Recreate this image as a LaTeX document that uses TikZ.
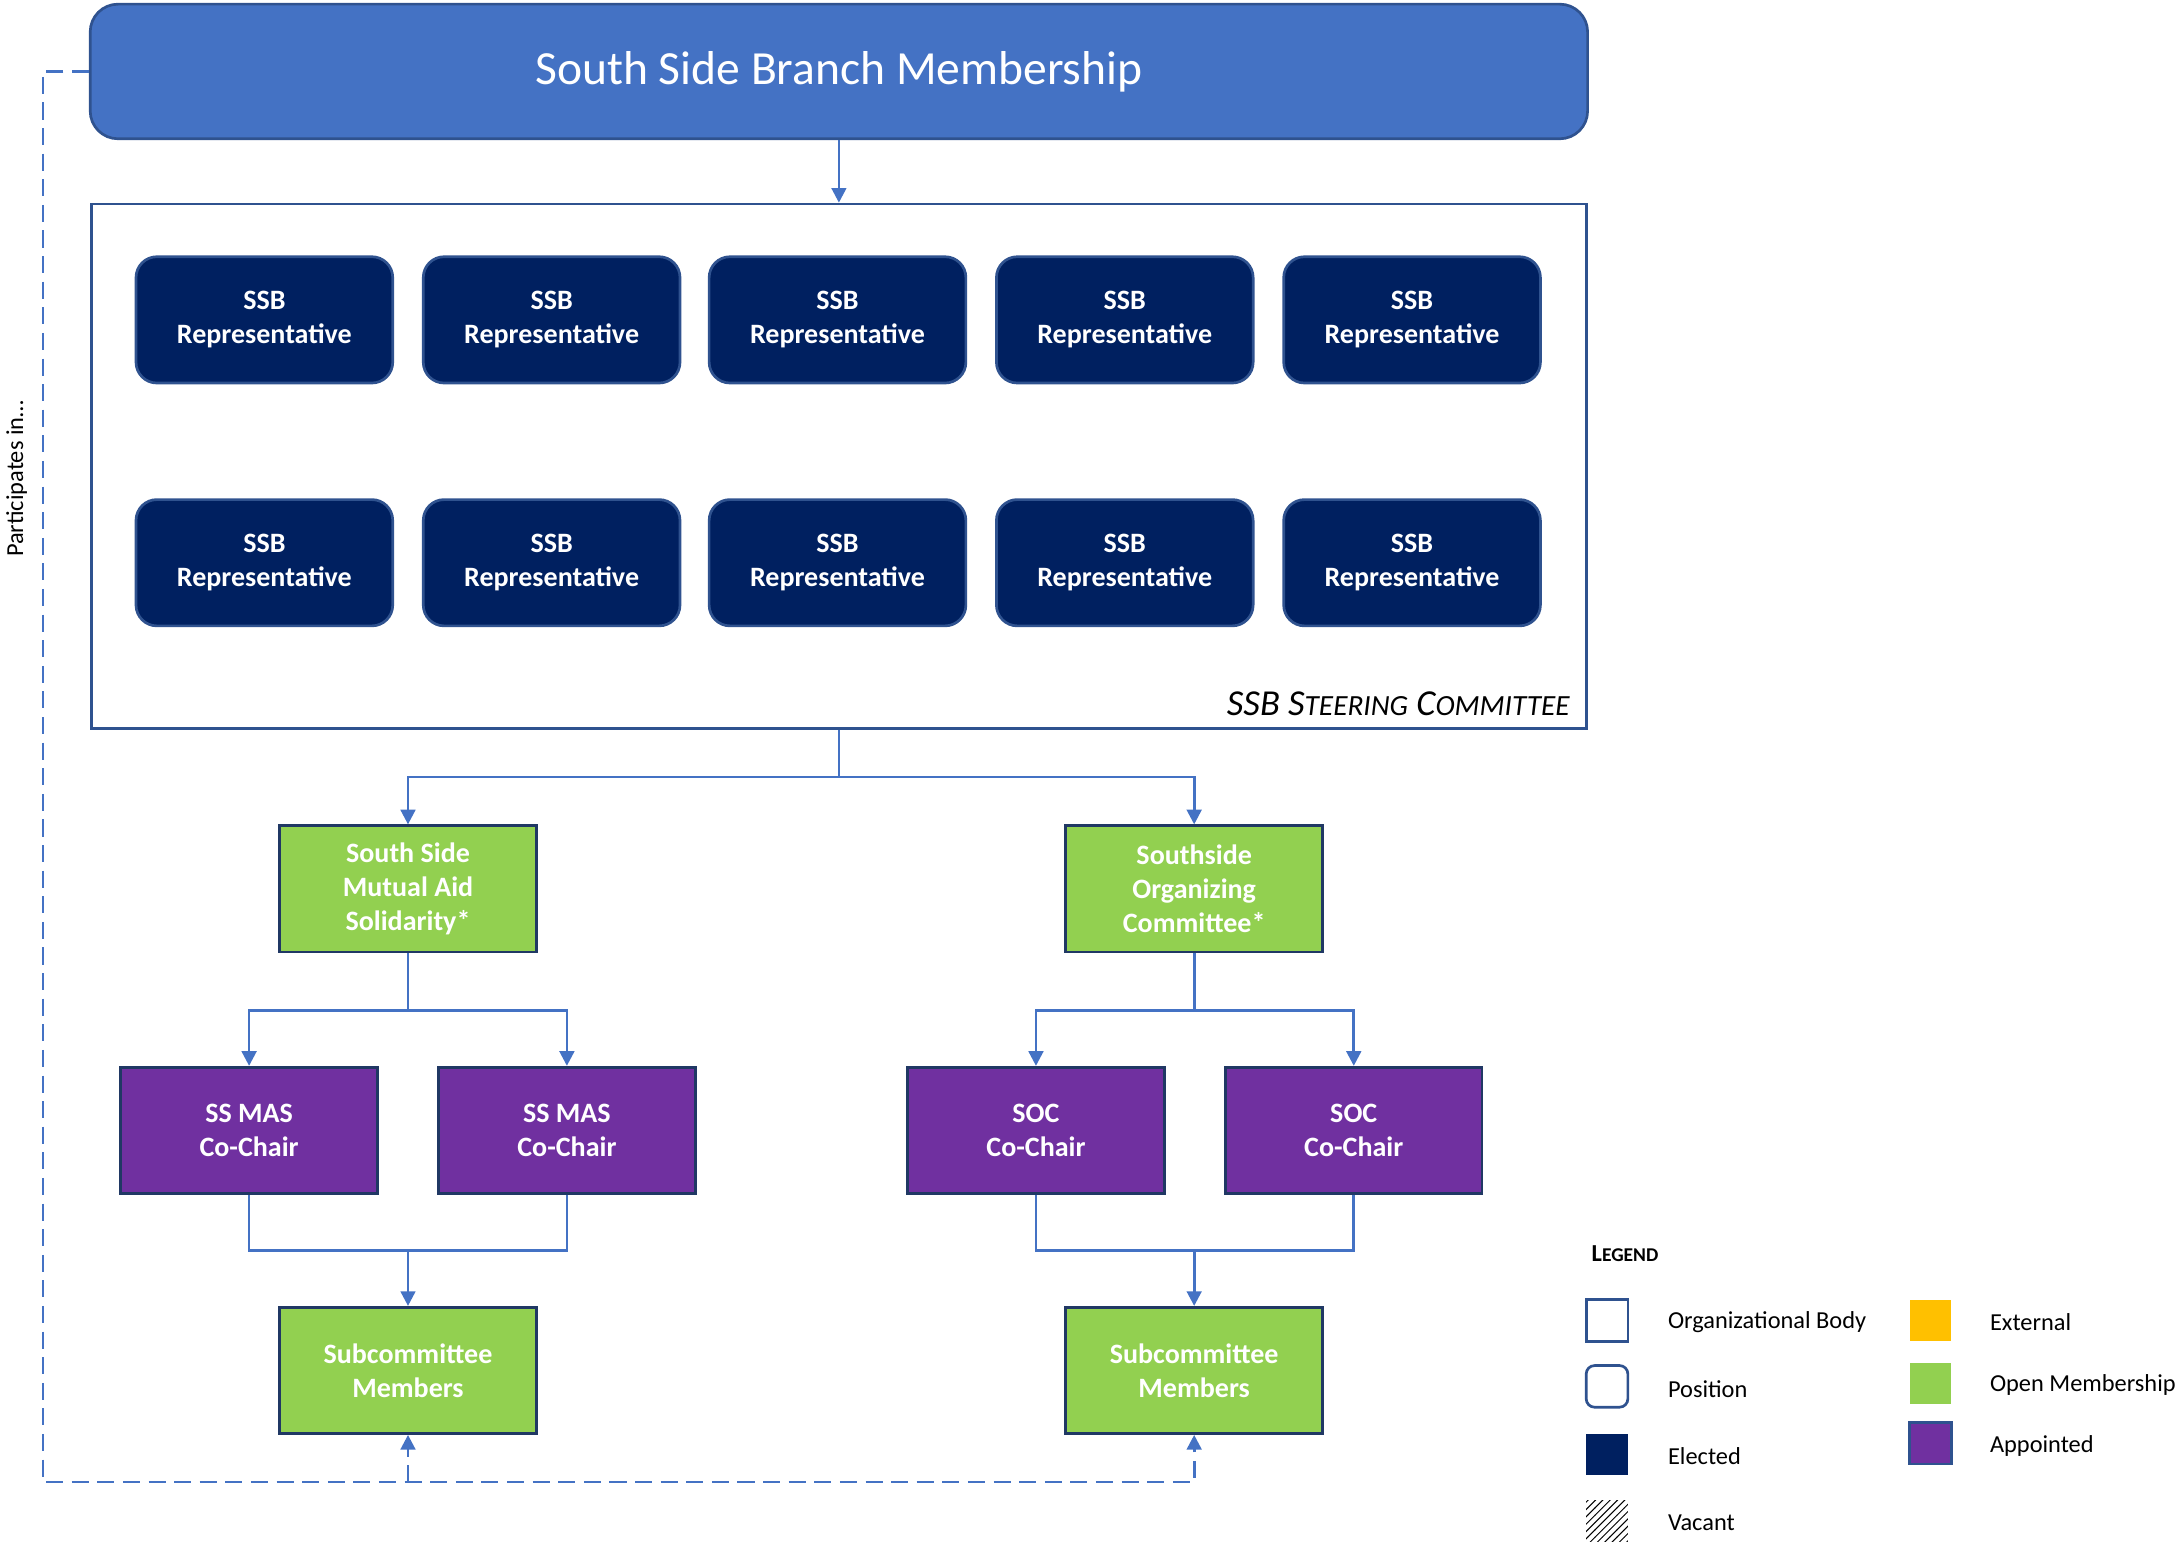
\documentclass[tikz,border=0pt]{standalone}
\usepackage{fontspec}
\setmainfont{Carlito}
\usetikzlibrary{arrows.meta}
\usetikzlibrary{patterns}
\definecolor{orgblue}{HTML}{4472C4}
\definecolor{orgedge}{HTML}{2F528F}
\definecolor{elected}{HTML}{002060}
\definecolor{openmem}{HTML}{92D050}
\definecolor{appointed}{HTML}{7030A0}
\definecolor{darkedge}{HTML}{203864}
\definecolor{external}{HTML}{FFC000}
\tikzstyle{titlebox}=[rectangle,rounded corners=0.4cm,draw=orgedge,fill=orgblue,text=white,minimum width=21.58cm,minimum height=1.94cm,font=\fontsize{19.5}{23}\selectfont]
\tikzstyle{bodybox}=[rectangle,draw=orgedge,minimum width=21.54cm,minimum height=7.56cm]
\tikzstyle{unit}=[rectangle,minimum width=3.7cm,minimum height=1.82cm,text=white,align=center,inner sep=0pt,font=\bfseries\fontsize{11.5}{14}\selectfont]
\tikzstyle{repbox}=[unit,rounded corners=0.3cm,fill=elected,draw=orgedge]
\tikzstyle{openbox}=[unit,fill=openmem,draw=darkedge]
\tikzstyle{apptbox}=[unit,fill=appointed,draw=darkedge]
\tikzstyle{link}=[draw=orgblue]
\tikzstyle{arrow}=[link,-{Triangle[length=6pt,width=6pt]}]
\tikzstyle{participates}=[arrow,dash pattern=on 7pt off 3.5pt]
\tikzstyle{keybox}=[rectangle,minimum size=0.6cm,inner sep=0pt]
\tikzstyle{keytext}=[anchor=west,inner sep=0pt,font=\fontsize{10}{12}\selectfont]
\tikzset{every picture/.style={
    line width=1.1pt
  }
}
\newcommand{\smallcap}[1]{{\fontsize{12}{12}\selectfont #1}}
\newcommand{\tinycap}[1]{{\fontsize{8}{8}\selectfont #1}}

\begin{document}
\begin{tikzpicture}
      \useasboundingbox (0,0) rectangle (31.36,-22.26);
      % membership and steering committee
      \node[titlebox] at (12.09,-1.03) (title) {South Side Branch Membership};
      \node[bodybox] at (12.09,-6.72) (steer) {};
      \node[anchor=east,inner sep=0pt,font=\itshape\fontsize{15}{15}\selectfont] at (22.64,-10.14) (steerlabel) {SSB S\smallcap{TEERING} C\smallcap{OMMITTEE}};
      \node[repbox] at (3.81,-4.61) (rep1) {SSB\\Representative};
      \node[repbox] at (7.95,-4.61) (rep2) {SSB\\Representative};
      \node[repbox] at (12.07,-4.61) (rep3) {SSB\\Representative};
      \node[repbox] at (16.21,-4.61) (rep4) {SSB\\Representative};
      \node[repbox] at (20.35,-4.61) (rep5) {SSB\\Representative};
      \node[repbox] at (3.81,-8.11) (rep6) {SSB\\Representative};
      \node[repbox] at (7.95,-8.11) (rep7) {SSB\\Representative};
      \node[repbox] at (12.07,-8.11) (rep8) {SSB\\Representative};
      \node[repbox] at (16.21,-8.11) (rep9) {SSB\\Representative};
      \node[repbox] at (20.35,-8.11) (rep10) {SSB\\Representative};
      % committees
      \node[openbox] at (5.88,-12.81) (ssmas) {South Side\\Mutual Aid\\Solidarity*};
      \node[openbox] at (17.21,-12.81) (soc) {Southside\\Organizing\\Committee*};
      \node[apptbox] at (3.59,-16.29) (mas1) {SS MAS\\Co-Chair};
      \node[apptbox] at (8.17,-16.29) (mas2) {SS MAS\\Co-Chair};
      \node[apptbox] at (14.93,-16.29) (soc1) {SOC\\Co-Chair};
      \node[apptbox] at (19.51,-16.29) (soc2) {SOC\\Co-Chair};
      \node[openbox] at (5.88,-19.75) (sub1) {Subcommittee\\Members};
      \node[openbox] at (17.21,-19.75) (sub2) {Subcommittee\\Members};
      % junctions
      \coordinate (j0) at (12.09,-11.2);
      \coordinate (j1) at (5.88,-14.56);
      \coordinate (j2) at (17.21,-14.56);
      \coordinate (j3) at (5.88,-18.02);
      \coordinate (j4) at (17.21,-18.02);
      \coordinate (dtop) at (0.62,-1.03);
      \coordinate (dbot) at (0.62,-21.36);
      \draw[arrow] (title)--(steer);
      \draw[link] (steer.south)--(j0);
      \draw[arrow] (j0)-|(ssmas.north);
      \draw[arrow] (j0)-|(soc.north);
      \draw[link] (ssmas.south)--(j1);
      \draw[arrow] (j1)-|(mas1.north);
      \draw[arrow] (j1)-|(mas2.north);
      \draw[link] (soc.south)--(j2);
      \draw[arrow] (j2)-|(soc1.north);
      \draw[arrow] (j2)-|(soc2.north);
      \draw[link] (mas1.south)|-(j3)-|(mas2.south);
      \draw[arrow] (j3)--(sub1);
      \draw[link] (soc1.south)|-(j4)-|(soc2.south);
      \draw[arrow] (j4)--(sub2);
      % participation loop
      \draw[participates] (title.west)--(dtop)--(dbot)-|(sub2.south);
      \draw[participates] (sub1.south |- dbot)--(sub1.south);
      \node[rotate=90,inner sep=0pt,font=\fontsize{10}{12}\selectfont] at (0.24,-6.9) (partlabel) {Participates in\ldots};
      % legend
      \node[anchor=west,inner sep=0pt,font=\bfseries\fontsize{10}{12}\selectfont] at (22.92,-18.06) (legend) {L\tinycap{EGEND}};
      \node[keybox,draw=orgedge] at (23.16,-19.03) (kbody) {};
      \node[keybox,draw=orgedge,rounded corners=0.12cm] at (23.16,-19.98) (kpos) {};
      \node[keybox,fill=elected] at (23.16,-20.96) (kelect) {};
      \node[keybox,pattern=north east lines] at (23.16,-21.92) (kvac) {};
      \node[keytext] at (24.02,-19.06) (tbody) {Organizational Body};
      \node[keytext] at (24.02,-20.02) (tpos) {Position};
      \node[keytext] at (24.02,-20.98) (telect) {Elected};
      \node[keytext] at (24.02,-21.94) (tvac) {Vacant};
      \node[keybox,fill=external] at (27.82,-19.03) (kext) {};
      \node[keybox,fill=openmem] at (27.82,-19.94) (kopen) {};
      \node[keybox,fill=appointed,draw=orgedge] at (27.82,-20.8) (kappt) {};
      \node[keytext] at (28.66,-19.06) (text) {External};
      \node[keytext] at (28.66,-19.96) (topen) {Open Membership};
      \node[keytext] at (28.66,-20.84) (tappt) {Appointed};
    \end{tikzpicture}
\end{document}
